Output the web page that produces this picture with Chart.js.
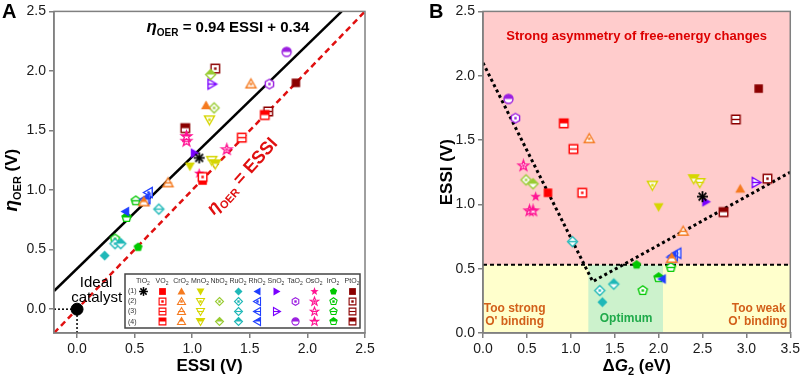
<!DOCTYPE html>
<html>
<head>
<meta charset="utf-8">
<script src="https://cdn.jsdelivr.net/npm/chart.js@4.4.0/dist/chart.umd.min.js"></script>
<style>
  html, body { margin: 0; padding: 0; background: #fff; }
  #wrap { position: relative; width: 803px; height: 377px; }
  #chartA { position: absolute; left: 0; top: 0; }
  #chartB { position: absolute; left: 400px; top: 0; }
</style>
</head>
<body>
<div id="wrap">
  <canvas id="chartA" width="400" height="377"></canvas>
  <canvas id="chartB" width="403" height="377"></canvas>
</div>
<script>
// materiales (columnas de la leyenda) y variantes (filas)
const materials = ['TiO2', 'VO2', 'CrO2', 'MnO2', 'NbO2', 'RuO2', 'RhO2', 'SnO2', 'TaO2', 'OsO2', 'IrO2', 'PtO2'];
const variants = ['(1)', '(2)', '(3)', '(4)'];

// ESSI (V) por material, un arreglo por variante (null = sin dato)
const essi1 = [1.06, 1.09, 1.12, 0.98, null, 0.24, 0.42, 1.02, null, 1.06, 0.53, 1.90];
const essi2 = [null, 1.09, 1.51, 1.15, 1.19, 0.33, 0.62, null, 1.67, 1.30, 0.33, 1.20];
const essi3 = [null, 1.43, 0.79, 1.17, null, 0.71, 0.60, 1.17, null, 0.95, 0.51, 1.66];
const essi4 = [null, 1.63, 0.58, 1.20, 1.16, 0.38, 0.59, null, 1.82, 0.95, 0.43, 0.94];

// sobrepotencial eta_OER (V)
const eta1 = [1.27, 1.08, 1.71, 1.20, null, 0.45, 0.82, 1.31, null, 1.14, 0.52, 1.90];
const eta2 = [null, 1.11, 1.89, 1.59, 1.69, 0.55, 0.98, null, 1.89, 1.34, 0.59, 2.02];
const eta3 = [null, 1.44, 1.06, 1.25, null, 0.84, 0.93, 1.89, null, 1.41, 0.91, 1.66];
const eta4 = [null, 1.63, 0.90, 1.22, 1.97, 0.55, 0.92, null, 2.16, 1.45, 0.77, 1.52];

// Delta G2 (eV)
const dg1 = [2.50, 0.74, 2.93, 2.00, null, 1.36, 2.04, 2.54, null, 0.60, 1.75, 3.14];
const dg2 = [null, 1.13, 1.21, 1.93, 0.49, 1.33, 2.21, null, 0.37, 0.46, 1.82, 3.24];
const dg3 = [null, 1.03, 2.28, 2.47, null, 1.02, 2.17, 3.11, null, 0.53, 2.14, 2.88];
const dg4 = [null, 0.92, 2.15, 2.40, 0.57, 1.49, 2.15, null, 0.29, 0.57, 2.00, 2.74];

// recta de ajuste y lineas guia
const fitSlope = 0.94;
const fitIntercept = 0.34;
const vLineX = [0, 1.25, 3.5];
const vLineY = [2.1, 0.4, 1.25];
const essiLimit = 0.53;
const optimumRange = [1.2, 2.05];

// etiquetas de los ejes
const ticksAx = [0, 0.5, 1.0, 1.5, 2.0, 2.5];
const ticksAy = [0, 0.5, 1.0, 1.5, 2.0, 2.5];
const ticksBx = [0, 0.5, 1.0, 1.5, 2.0, 2.5, 3.0, 3.5];
const ticksBy = [0, 0.5, 1.0, 1.5, 2.0, 2.5];

const essiSets = [essi1, essi2, essi3, essi4];
const etaSets = [eta1, eta2, eta3, eta4];
const dgSets = [dg1, dg2, dg3, dg4];

const FF = '"Liberation Sans", Arial, Helvetica, sans-serif';
const markerShapes = ['ast', 'sq', 'tri', 'tridown', 'dia', 'dia', 'left', 'right', 'hex', 'star', 'pent', 'sq'];
const markerColors = ['#000000', '#ff0000', '#f57a1f', '#d6d600', '#99cc33', '#1fb8b8', '#1f3fff', '#7a00ff', '#9b1fe0', '#ff1493', '#00c800', '#8b0000'];

function shapePath(g, shape, cx, cy, r) {
  g.beginPath();
  if (shape === 'sq') {
    const h = r * 0.85;
    g.rect(cx - h, cy - h, 2 * h, 2 * h);
  } else if (shape === 'tri') {
    g.moveTo(cx, cy - r); g.lineTo(cx + r, cy + r * 0.75); g.lineTo(cx - r, cy + r * 0.75); g.closePath();
  } else if (shape === 'tridown') {
    g.moveTo(cx, cy + r); g.lineTo(cx + r, cy - r * 0.75); g.lineTo(cx - r, cy - r * 0.75); g.closePath();
  } else if (shape === 'left') {
    g.moveTo(cx - r, cy); g.lineTo(cx + r * 0.75, cy - r); g.lineTo(cx + r * 0.75, cy + r); g.closePath();
  } else if (shape === 'right') {
    g.moveTo(cx + r, cy); g.lineTo(cx - r * 0.75, cy - r); g.lineTo(cx - r * 0.75, cy + r); g.closePath();
  } else if (shape === 'dia') {
    g.moveTo(cx, cy - r); g.lineTo(cx + r, cy); g.lineTo(cx, cy + r); g.lineTo(cx - r, cy); g.closePath();
  } else if (shape === 'circle') {
    g.arc(cx, cy, r * 0.9, 0, Math.PI * 2);
  } else if (shape === 'hex' || shape === 'pent') {
    const n = shape === 'hex' ? 6 : 5;
    for (let k = 0; k < n; k++) {
      const a = -Math.PI / 2 + k * 2 * Math.PI / n;
      const px = cx + Math.cos(a) * r * 0.95, py = cy + Math.sin(a) * r * 0.95;
      if (k === 0) g.moveTo(px, py); else g.lineTo(px, py);
    }
    g.closePath();
  } else if (shape === 'star') {
    for (let k = 0; k < 10; k++) {
      const a = -Math.PI / 2 + k * Math.PI / 5;
      const rr = k % 2 === 0 ? r * 1.1 : r * 0.45;
      const px = cx + Math.cos(a) * rr, py = cy + Math.sin(a) * rr;
      if (k === 0) g.moveTo(px, py); else g.lineTo(px, py);
    }
    g.closePath();
  }
}

const cache = {};
function marker(m, v, r) {
  const key = m + '_' + v + '_' + r;
  if (cache[key]) return cache[key];
  let shape = markerShapes[m];
  if (shape === 'hex' && v === 3) shape = 'circle';
  const color = markerColors[m];
  const s = Math.ceil(2 * r + 5);
  const c = document.createElement('canvas');
  c.width = s; c.height = s;
  const g = c.getContext('2d');
  const cx = s / 2, cy = s / 2;
  g.lineWidth = r > 4.5 ? 1.4 : 1.1;
  g.strokeStyle = color;
  if (shape === 'ast') {
    g.lineWidth = r > 4.5 ? 1.8 : 1.5;
    for (let k = 0; k < 4; k++) {
      const a = k * Math.PI / 4;
      g.beginPath();
      g.moveTo(cx - Math.cos(a) * r * 1.1, cy - Math.sin(a) * r * 1.1);
      g.lineTo(cx + Math.cos(a) * r * 1.1, cy + Math.sin(a) * r * 1.1);
      g.stroke();
    }
  } else if (v === 0) {
    shapePath(g, shape, cx, cy, r);
    g.fillStyle = color; g.fill();
  } else {
    shapePath(g, shape, cx, cy, r);
    g.fillStyle = '#fff'; g.fill();
    if (v === 3) {
      g.save(); g.beginPath(); g.rect(0, 0, s, cy); g.clip();
      shapePath(g, shape, cx, cy, r); g.fillStyle = color; g.fill();
      g.restore();
    }
    shapePath(g, shape, cx, cy, r); g.stroke();
    if (v === 1) { g.fillStyle = color; g.fillRect(cx - 1.2, cy - 1.2, 2.4, 2.4); }
    if (v === 2) { g.beginPath(); g.moveTo(cx - r * 0.8, cy); g.lineTo(cx + r * 0.8, cy); g.stroke(); }
  }
  cache[key] = c;
  return c;
}

// texto con subindices
function richText(ctx, parts, x, y, align, color) {
  let w = 0;
  parts.forEach(p => { ctx.font = p.f; w += ctx.measureText(p.t).width; });
  let cx = align === 'center' ? x - w / 2 : (align === 'right' ? x - w : x);
  ctx.fillStyle = color;
  ctx.textAlign = 'left';
  ctx.textBaseline = 'alphabetic';
  parts.forEach(p => {
    ctx.font = p.f;
    ctx.fillText(p.t, cx, y + (p.dy || 0));
    cx += ctx.measureText(p.t).width;
  });
}

function materialDatasets(xSets, ySets) {
  return materials.map((name, m) => {
    const pts = [], styles = [];
    for (let v = 0; v < 4; v++) {
      if (xSets[v][m] === null || ySets[v][m] === null) continue;
      pts.push({ x: xSets[v][m], y: ySets[v][m] });
      styles.push(marker(m, v, 5));
    }
    return { label: name, data: pts, pointStyle: styles, pointRadius: 5, showLine: false };
  });
}

function lineDataset(xs, ys, color, width, dash) {
  return {
    data: xs.map((x, i) => ({ x: x, y: ys[i] })),
    showLine: true, pointRadius: 0, borderColor: color, borderWidth: width,
    borderDash: dash, fill: false, borderCapStyle: 'butt'
  };
}

function axis(min, max, ticks, size, isY) {
  return {
    type: 'linear', min: min, max: max,
    afterBuildTicks: s => { s.ticks = ticks.map(v => ({ value: v })); },
    afterFit: s => { if (isY) s.width = size; else s.height = size; },
    grid: { drawOnChartArea: false, drawTicks: true, tickLength: 5, color: '#808080', lineWidth: 1.5 },
    border: { display: true, color: '#808080', width: 1.5 },
    ticks: { color: '#1a1a1a', font: { family: FF, size: 14 }, padding: isY ? 3 : 3, callback: v => v.toFixed(1) }
  };
}

function frame(chart) {
  const a = chart.chartArea, ctx = chart.ctx;
  ctx.save();
  ctx.strokeStyle = '#808080';
  ctx.lineWidth = 1.5;
  ctx.strokeRect(a.left, a.top, a.right - a.left, a.bottom - a.top);
  ctx.restore();
}

// ---------- Grafica A ----------
const fitX = [-0.2, (2.5 - fitIntercept) / fitSlope];
const fitY = fitX.map(x => fitSlope * x + fitIntercept);
const parityX = [-0.2, 2.5];

const dsA = materialDatasets(essiSets, etaSets);
dsA.push({ data: [{ x: 0, y: 0 }], pointRadius: 6, pointStyle: 'circle', backgroundColor: '#000', borderColor: '#000', showLine: false });
dsA.push(lineDataset(fitX, fitY, '#000', 2.5, []));
dsA.push(lineDataset(parityX, parityX, '#e01010', 2.5, [6, 4]));
dsA.push(lineDataset([0, 0], [-0.2, 0], '#000', 1.5, [2, 2]));
dsA.push(lineDataset([-0.2, 0], [0, 0], '#000', 1.5, [2, 2]));

const decorA = {
  id: 'decorA',
  afterDraw(chart) {
    const ctx = chart.ctx, a = chart.chartArea;
    const sx = chart.scales.x, sy = chart.scales.y;
    frame(chart);
    ctx.save();
    // letra del panel
    ctx.font = 'bold 20px ' + FF; ctx.fillStyle = '#000'; ctx.textAlign = 'left';
    ctx.fillText('A', 2, 18);
    // ecuacion
    richText(ctx, [
      { t: 'η', f: 'italic bold 17px ' + FF },
      { t: 'OER', f: 'bold 10px ' + FF, dy: 4 },
      { t: ' = 0.94 ESSI + 0.34', f: 'bold 15px ' + FF }
    ], sx.getPixelForValue(1.31), sy.getPixelForValue(2.33), 'center', '#000');
    // texto rojo girado
    ctx.save();
    ctx.translate(sx.getPixelForValue(1.43), sy.getPixelForValue(1.12));
    ctx.rotate(-48 * Math.PI / 180);
    richText(ctx, [
      { t: 'η', f: 'italic bold 18px ' + FF },
      { t: 'OER', f: 'bold 11px ' + FF, dy: 4 },
      { t: ' = ESSI', f: 'bold 18px ' + FF }
    ], 0, 6, 'center', '#e01010');
    ctx.restore();
    // catalizador ideal
    ctx.font = '15px ' + FF; ctx.fillStyle = '#000'; ctx.textAlign = 'center';
    ctx.fillText('Ideal', sx.getPixelForValue(0.165), sy.getPixelForValue(0.19));
    ctx.fillText('catalyst', sx.getPixelForValue(0.17), sy.getPixelForValue(0.06));
    // titulos de ejes
    richText(ctx, [{ t: 'ESSI (V)', f: 'bold 17px ' + FF }], (a.left + a.right) / 2, 371, 'center', '#000');
    ctx.save();
    ctx.translate(17, (a.top + a.bottom) / 2 + 8);
    ctx.rotate(-Math.PI / 2);
    richText(ctx, [
      { t: 'η', f: 'italic bold 19px ' + FF },
      { t: 'OER', f: 'bold 11px ' + FF, dy: 4 },
      { t: ' (V)', f: 'bold 17px ' + FF }
    ], 0, 0, 'center', '#000');
    ctx.restore();
    // leyenda en cuadricula
    const bx = a.right - 240, by = a.bottom - 59, bw = 235, bh = 54;
    ctx.fillStyle = '#fff';
    ctx.fillRect(bx, by, bw, bh);
    ctx.strokeStyle = '#444'; ctx.lineWidth = 1.5;
    ctx.strokeRect(bx, by, bw, bh);
    materials.forEach((name, m) => {
      const cx = bx + 18 + m * 19;
      richText(ctx, [
        { t: name.slice(0, -1), f: '7px ' + FF },
        { t: '2', f: '5px ' + FF, dy: 1.5 }
      ], cx, by + 9, 'center', '#333');
      for (let v = 0; v < 4; v++) {
        if (essiSets[v][m] === null) continue;
        const img = marker(m, v, 4);
        ctx.drawImage(img, Math.round(cx - img.width / 2), Math.round(by + 17 + v * 10.2 - img.height / 2));
      }
    });
    variants.forEach((lab, v) => {
      ctx.font = '7px ' + FF; ctx.fillStyle = '#333'; ctx.textAlign = 'left'; ctx.textBaseline = 'middle';
      ctx.fillText(lab, bx + 3, by + 17 + v * 10.2);
    });
    ctx.restore();
  }
};

new Chart(document.getElementById('chartA'), {
  type: 'scatter',
  data: { datasets: dsA },
  options: {
    responsive: false, animation: false, events: [],
    layout: { padding: { left: 0, top: 8, right: 35, bottom: 0 } },
    plugins: { legend: { display: false }, tooltip: { enabled: false } },
    scales: { x: axis(-0.2, 2.5, ticksAx, 44, false), y: axis(-0.2, 2.5, ticksAy, 54, true) }
  },
  plugins: [decorA]
});

// ---------- Grafica B ----------
const dsB = materialDatasets(dgSets, essiSets);
dsB.push(lineDataset(vLineX, vLineY, '#000', 3, [3, 3]));
dsB.push(lineDataset([0, 3.5], [essiLimit, essiLimit], '#000', 2, [4, 3]));

const decorB = {
  id: 'decorB',
  beforeDraw(chart) {
    const ctx = chart.ctx, a = chart.chartArea;
    const sx = chart.scales.x, sy = chart.scales.y;
    const yl = sy.getPixelForValue(essiLimit);
    ctx.save();
    ctx.fillStyle = '#ffcccc';
    ctx.fillRect(a.left, a.top, a.right - a.left, yl - a.top);
    ctx.fillStyle = '#ffffcc';
    ctx.fillRect(a.left, yl, a.right - a.left, a.bottom - yl);
    const x0 = sx.getPixelForValue(optimumRange[0]), x1 = sx.getPixelForValue(optimumRange[1]);
    ctx.fillStyle = '#ccf2cc';
    ctx.fillRect(x0, yl, x1 - x0, a.bottom - yl);
    ctx.restore();
  },
  afterDraw(chart) {
    const ctx = chart.ctx, a = chart.chartArea;
    const sx = chart.scales.x, sy = chart.scales.y;
    frame(chart);
    ctx.save();
    ctx.font = 'bold 20px ' + FF; ctx.fillStyle = '#000'; ctx.textAlign = 'left';
    ctx.fillText('B', 29, 18);
    ctx.textAlign = 'center';
    ctx.font = 'bold 13px ' + FF; ctx.fillStyle = '#dd0000';
    ctx.fillText('Strong asymmetry of free-energy changes', sx.getPixelForValue(1.75), 40);
    ctx.font = 'bold 12px ' + FF;
    ctx.fillStyle = '#d2601a';
    ctx.fillText('Too strong', sx.getPixelForValue(0.36), 312);
    ctx.fillText("O' binding", sx.getPixelForValue(0.36), 324.5);
    ctx.fillText('Too weak', sx.getPixelForValue(3.14), 312);
    ctx.fillText("O' binding", sx.getPixelForValue(3.13), 324.5);
    ctx.fillStyle = '#1faa4a';
    ctx.fillText('Optimum', sx.getPixelForValue(1.63), 321.5);
    richText(ctx, [
      { t: 'Δ', f: 'bold 17px ' + FF },
      { t: 'G', f: 'italic bold 17px ' + FF },
      { t: '2', f: 'bold 11px ' + FF, dy: 4 },
      { t: ' (eV)', f: 'bold 17px ' + FF }
    ], (a.left + a.right) / 2, 371, 'center', '#000');
    ctx.save();
    ctx.translate(52, (a.top + a.bottom) / 2);
    ctx.rotate(-Math.PI / 2);
    richText(ctx, [{ t: 'ESSI (V)', f: 'bold 17px ' + FF }], 0, 0, 'center', '#000');
    ctx.restore();
    ctx.restore();
  }
};

new Chart(document.getElementById('chartB'), {
  type: 'scatter',
  data: { datasets: dsB },
  options: {
    responsive: false, animation: false, events: [],
    layout: { padding: { left: 0, top: 8, right: 11, bottom: 0 } },
    plugins: { legend: { display: false }, tooltip: { enabled: false } },
    scales: { x: axis(0, 3.5, ticksBx, 44, false), y: axis(0, 2.5, ticksBy, 83, true) }
  },
  plugins: [decorB]
});
</script>
</body>
</html>
